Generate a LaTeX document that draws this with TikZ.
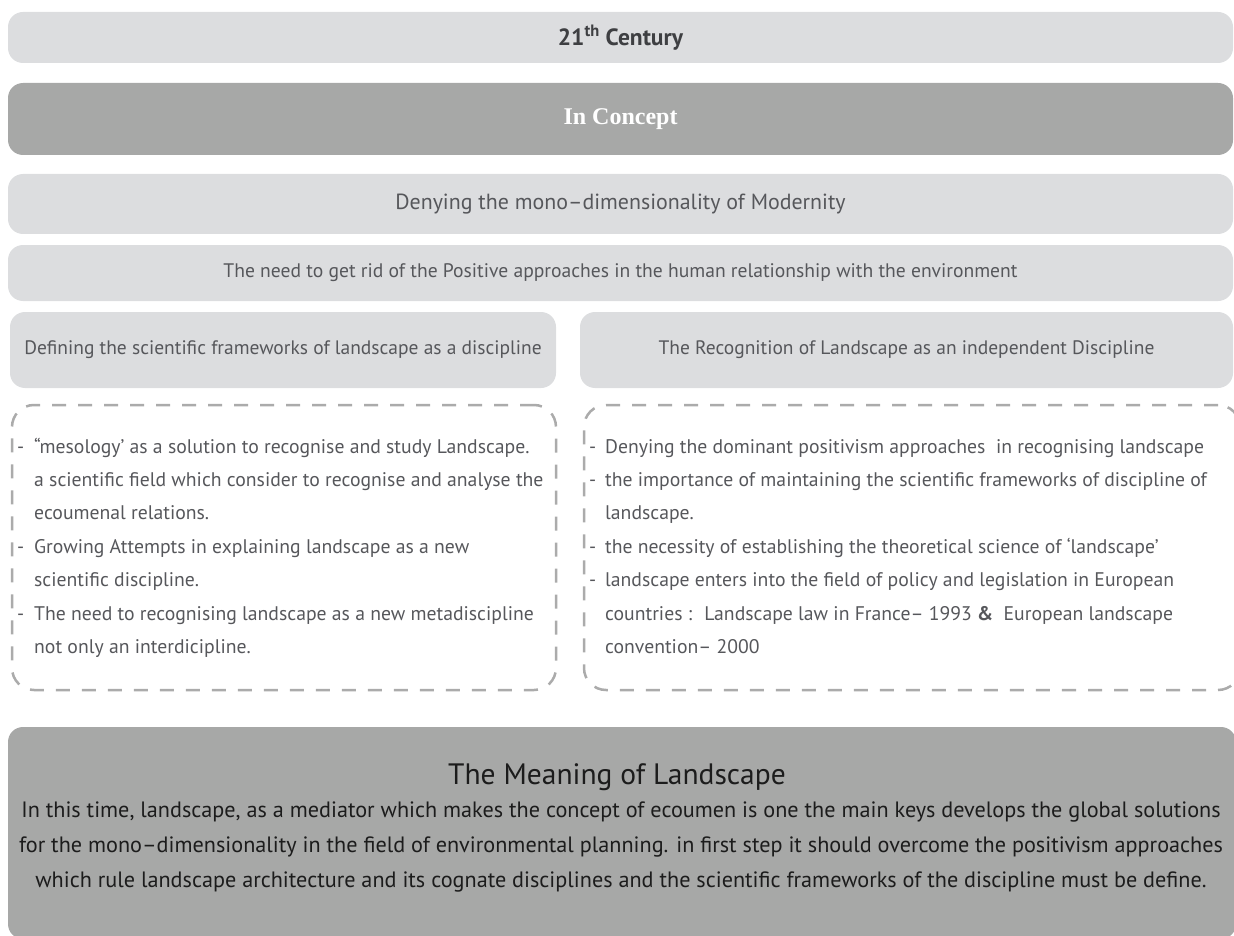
\documentclass[tikz,border=0pt]{standalone}
\usepackage{fontspec}
\setmainfont{PT Sans}
\newfontfamily\conceptfont{Liberation Serif}

\definecolor{paleGray}{HTML}{DCDDDF}
\definecolor{midGray}{HTML}{A7A8A7}
\definecolor{dashGray}{HTML}{ABABAB}
\definecolor{textGray}{HTML}{56575B}
\definecolor{headGray}{HTML}{3E3F42}
\definecolor{inkGray}{HTML}{1C1C1C}

\newcommand{\itemdash}[1]{\llap{-\hspace{#1}}}

\tikzset{
  palebox/.style={fill=paleGray, rounded corners=15pt, inner sep=0pt, text=textGray},
  greybox/.style={fill=midGray, rounded corners=15pt, inner sep=0pt},
  dashframe/.style={draw=dashGray, line width=2.5pt, dash pattern=on 14pt off 12pt, rounded corners=22pt, inner sep=0pt},
  listline/.style={anchor=base west, inner sep=0pt, text=textGray, font=\fontsize{19.7}{23}\selectfont},
}

\begin{document}
\begin{tikzpicture}[x=1pt, y=-1pt]
    \useasboundingbox (0,0) rectangle (1234,936);

    \node[palebox, minimum width=1225pt, minimum height=51pt, text=headGray, font=\fontsize{23.5}{27}\selectfont\bfseries] (century) at (620.5,37.5) {21\textsuperscript{th} Century};
    \node[greybox, minimum width=1225pt, minimum height=72pt, text=white, font=\conceptfont\fontsize{24}{28}\selectfont\bfseries] (concept) at (620.5,119) {In Concept};
    \node[palebox, minimum width=1225pt, minimum height=60pt, font=\fontsize{21.9}{25}\selectfont] (deny) at (620.5,204) {Denying the mono–dimensionality of Modernity};
    \node[palebox, minimum width=1225pt, minimum height=56pt, font=\fontsize{19.6}{23}\selectfont] (need) at (620.5,273) {The need to get rid of the Positive approaches in the human relationship with the environment};
    \node[palebox, minimum width=546pt, minimum height=76pt, font=\fontsize{19.5}{23}\selectfont] (define) at (283,350) {Defining the scientific frameworks of landscape as a discipline};
    \node[palebox, minimum width=653pt, minimum height=76pt, font=\fontsize{19.5}{23}\selectfont] (recog) at (906.5,350) {The Recognition of Landscape as an independent Discipline};

    \node[dashframe, minimum width=544pt, minimum height=285pt] (lframe) at (284,547.5) {};
    \node[dashframe, minimum width=656pt, minimum height=285pt] (rframe) at (912,547.5) {};

    % left list
    \foreach \txt [count=\i] in {
        {\itemdash{10pt}“mesology’ as a solution to recognise and study Landscape.},
        {a scientific field which consider to recognise and analyse the},
        {ecoumenal relations.},
        {\itemdash{10pt}Growing Attempts in explaining landscape as a new},
        {scientific discipline.},
        {\itemdash{10pt}The need to recognising landscape as a new metadiscipline},
        {not only an interdicipline.}}
        \node[listline] (left\i) at (34,{453+33.4*(\i-1)}) {\txt};

    % right list
    \foreach \txt [count=\i] in {
        {\itemdash{9pt}Denying the dominant positivism approaches \ in recognising landscape},
        {\itemdash{9pt}the importance of maintaining the scientific frameworks of discipline of},
        {landscape.},
        {\itemdash{9pt}the necessity of establishing the theoretical science of ‘landscape’},
        {\itemdash{9pt}landscape enters into the field of policy and legislation in European},
        {countries : \ Landscape law in France– 1993 \textbf{\&} \ European landscape},
        {convention– 2000}}
        \node[listline] (right\i) at (605,{453+33.4*(\i-1)}) {\txt};

    \node[greybox, minimum width=1228pt, minimum height=212pt] (meaning) at (622,833) {};
    \node[inner sep=0pt, text=inkGray, font=\fontsize{29.5}{34}\selectfont] (mtitle) at (617,777) {The Meaning of Landscape};
    \node[inner sep=0pt, text=inkGray, align=center, font=\fontsize{22.2}{35}\selectfont] (mtext) at (621,847) {In this time, landscape, as a mediator which makes the concept of ecoumen is one the main keys develops the global solutions\\
        for the mono–dimensionality in the field of environmental planning. in first step it should overcome the positivism approaches\\
        which rule landscape architecture and its cognate disciplines and the scientific frameworks of the discipline must be define.};
\end{tikzpicture}
\end{document}
